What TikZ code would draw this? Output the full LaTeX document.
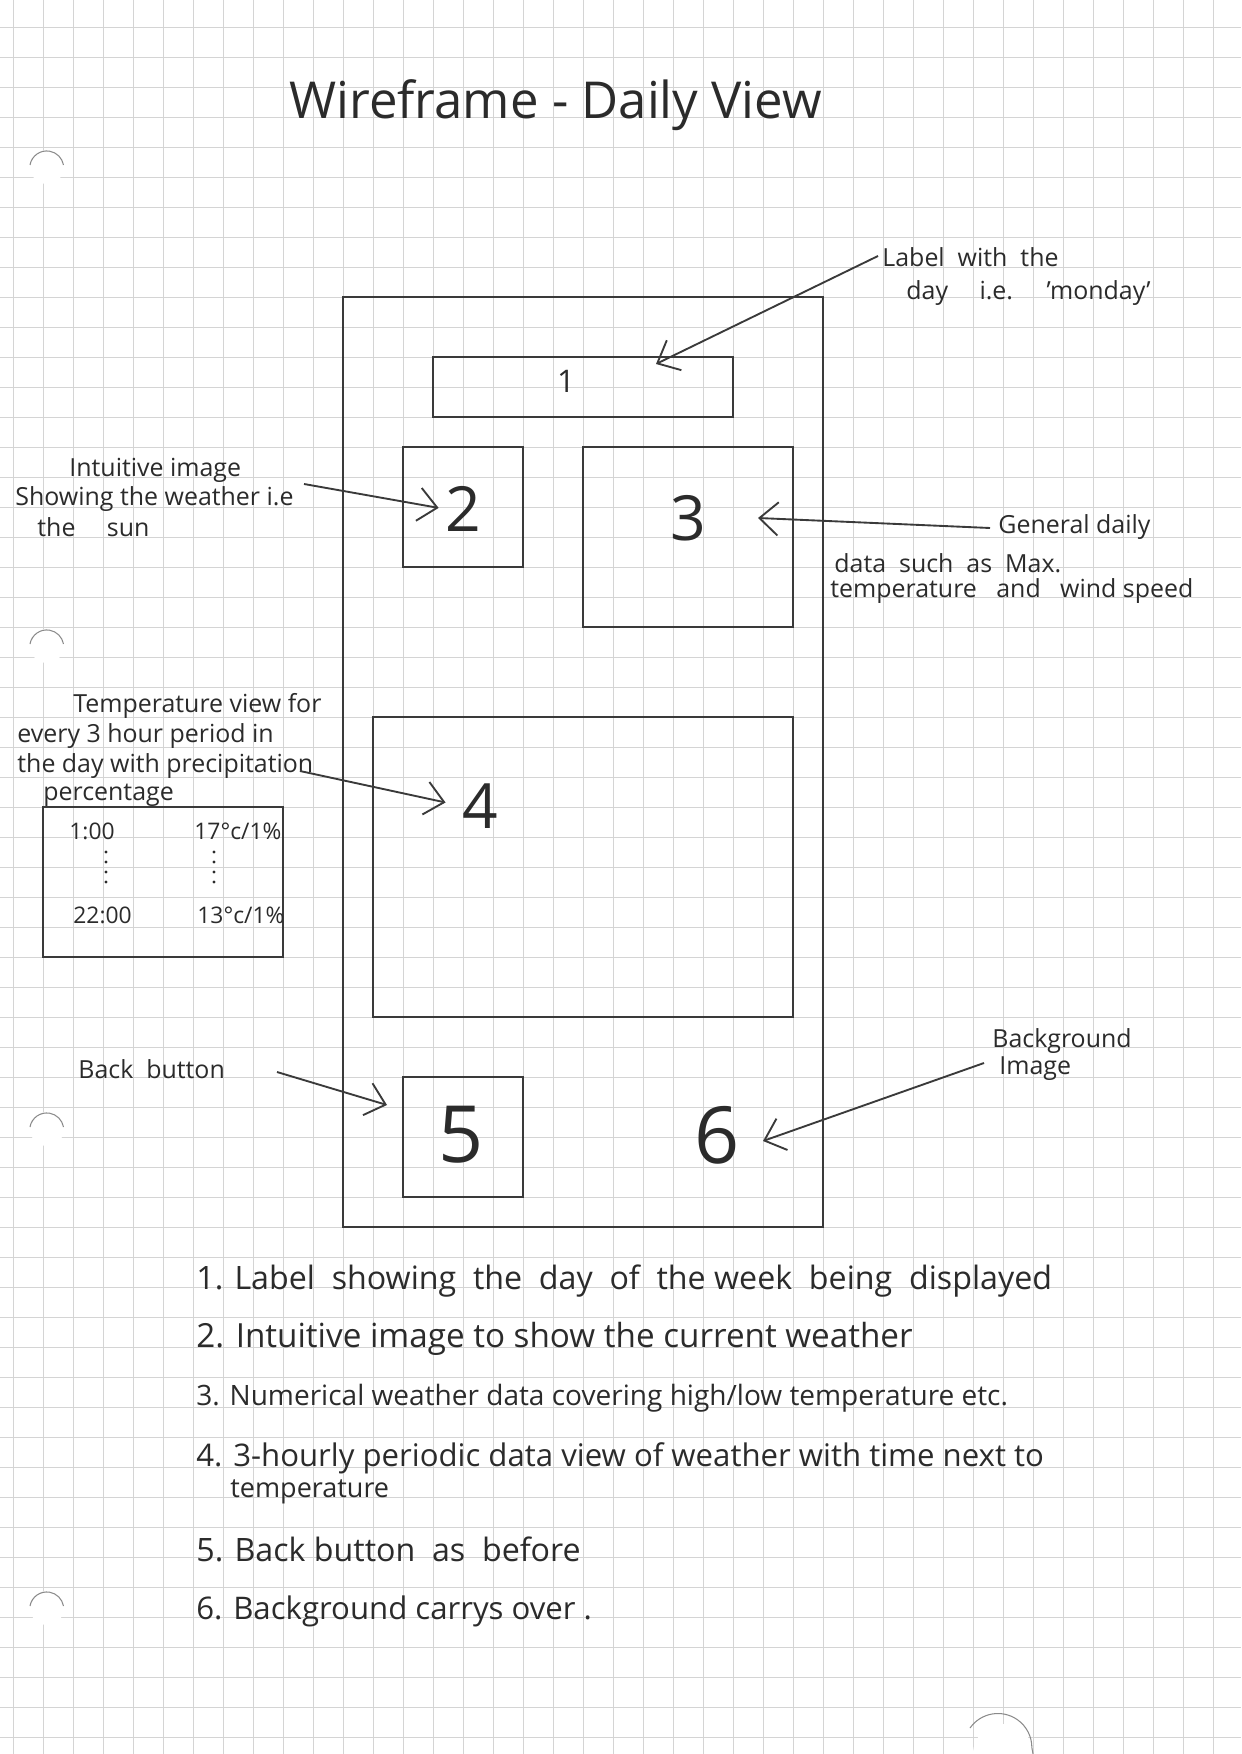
\documentclass[tikz,border=0pt]{standalone}
\usepackage{fontspec}
\setmainfont{Open Sans}
\usetikzlibrary{arrows.meta,fit}

\definecolor{inkc}{HTML}{2B2B2B}
\definecolor{linec}{HTML}{3A3A3A}
\definecolor{gridc}{HTML}{D4D4D4}
\definecolor{holec}{HTML}{8A8A8A}

\newcommand{\fsz}[1]{\fontsize{#1}{#1}\selectfont}

\begin{document}
\begin{tikzpicture}[x=0.016922cm, y=-0.016922cm,
  gridline/.style={draw=gridc, line width=0.45pt},
  holemark/.style={draw=holec, line width=0.5pt},
  frame/.style={draw=linec, line width=1.3pt, inner sep=0pt},
  title/.style={font=\fsz{24.5}, text=inkc, inner sep=0pt, anchor=west},
  note/.style={font=\fsz{12}, text=inkc, inner sep=0pt, anchor=west},
  cell/.style={font=\fsz{11}, text=inkc, inner sep=0pt, anchor=west},
  item/.style={font=\fsz{15.5}, text=inkc, inner sep=0pt, anchor=west},
  bignum/.style={font=\fsz{30}, text=inkc, inner sep=0pt},
  hugenum/.style={font=\fsz{38}, text=inkc, inner sep=0pt},
  pointer/.style={draw=linec, line width=0.9pt, -{Straight Barb[length=9pt,width=16pt,line width=0.9pt]}},
  vdots/.style={fill=inkc}
]
% page and squared paper
\useasboundingbox (0,0) rectangle (1241,1754);
\fill[white] (0,0) rectangle (1241,1754);
\foreach \i in {0,...,41} \draw[gridline] ({13+\i*30},0) -- ({13+\i*30},1754);
\foreach \j in {0,...,57} \draw[gridline] (0,{27+\j*30}) -- (1241,{27+\j*30});

% punched holes along the left margin and at the foot
\foreach \hy in {157,636,1119,1598} {
  \fill[white] (47,{\hy+10}) circle (17);
  \draw[holemark] (30,{\hy+8}) arc[start angle=190, end angle=350, radius=17];
}
\fill[white] (1003,1754) circle (30);
\draw[holemark] (970,1728) arc[start angle=215, end angle=360, radius=34] -- (1033,1754);

% heading
\node[title] (heading) at (289,105) {Wireframe - Daily View};

% screen layout
\node[frame, fit={(343,297)(823,1227)}] (screen) {};
\node[frame, fit={(433,357)(733,417)}] (box1) {};
\node[frame, fit={(403,447)(523,567)}] (box2) {};
\node[frame, fit={(583,447)(793,627)}] (box3) {};
\node[frame, fit={(373,717)(793,1017)}] (box4) {};
\node[frame, fit={(403,1077)(523,1197)}] (box5) {};

\node[font=\fsz{15}, text=inkc] (n1) at (566,381) {1};
\node[bignum] (n2) at (463,509) {2};
\node[bignum] (n3) at (688,518) {3};
\node[bignum] (n4) at (480,806) {4};
\node[hugenum] (n5) at (461,1135) {5};
\node[hugenum] (n6) at (717,1135) {6};

% annotations
\node[note] (lab1a) at (882,257) {Label \ with \ the};
\node[note] (lab1b) at (906,293) {day \quad i.e. \quad 'monday'};

\node[note] (lab2a) at (69,470) {Intuitive image};
\node[note] (lab2b) at (15,499) {Showing the weather i.e};
\node[note] (lab2c) at (37,527) {the \quad sun};

\node[note] (lab3a) at (998,527) {General daily};
\node[note] (lab3b) at (834,563) {data \ such \ as \ Max.};
\node[note] (lab3c) at (830,591) {temperature \ \ and \ \ wind speed};

\node[note] (lab4a) at (73,706) {Temperature view for};
\node[note] (lab4b) at (17,736) {every 3 hour period in};
\node[note] (lab4c) at (17,766) {the day with precipitation};
\node[note] (lab4d) at (43,795) {percentage};

\node[note] (lab5) at (78,1069) {Back \ button};
\node[note] (lab6a) at (992,1041) {Background};
\node[note] (lab6b) at (999,1069) {Image};

% sample of the 3-hourly table
\node[frame, fit={(43,807)(283,957)}] (table) {};
\node[cell] (t1) at (69,831) {1:00};
\node[cell] (t2) at (194,831) {17\textdegree c/1\%};
\node[cell] (t3) at (73,915) {22:00};
\node[cell] (t4) at (197,915) {13\textdegree c/1\%};
\foreach \dy in {852,862,872,882} {
  \fill[vdots] (106,\dy) circle (1.6);
  \fill[vdots] (214,\dy) circle (1.6);
}

% pointers from the notes to the parts of the screen
\coordinate (tail1) at (878,256);
\coordinate (tip1) at (656,364);
\coordinate (tail2) at (304,484);
\coordinate (tail3) at (990,528);
\coordinate (tip3) at (758,518);
\coordinate (tail4) at (300,771);
\coordinate (tail5) at (277,1072);
\coordinate (tip5) at (387,1105);
\coordinate (tail6) at (984,1063);
\coordinate (tip6) at (763,1141);

\draw[pointer] (tail1) -- (tip1);
\draw[pointer, shorten >=3pt] (tail2) -- (n2.west);
\draw[pointer] (tail3) -- (tip3);
\draw[pointer, shorten >=8pt] (tail4) -- (n4.west);
\draw[pointer] (tail5) -- (tip5);
\draw[pointer] (tail6) -- (tip6);

% key to the numbered parts
\node[item] (k1) at (196,1281) {1. Label \ showing \ the \ day \ of \ the week \ being \ displayed};
\node[item, font=\fsz{16}] (k2) at (196,1339) {2. Intuitive image to show the current weather};
\node[item, font=\fsz{13.5}] (k3) at (196,1398) {3. Numerical weather data covering high/low temperature etc.};
\node[item, font=\fsz{15}] (k4) at (196,1458) {4. 3-hourly periodic data view of weather with time next to};
\node[item, font=\fsz{13}] (k4b) at (230,1492) {temperature};
\node[item] (k5) at (196,1549) {5. Back button \ as \ before};
\node[item, font=\fsz{15}] (k6) at (196,1611) {6. Background carrys over .};
\end{tikzpicture}
\end{document}
